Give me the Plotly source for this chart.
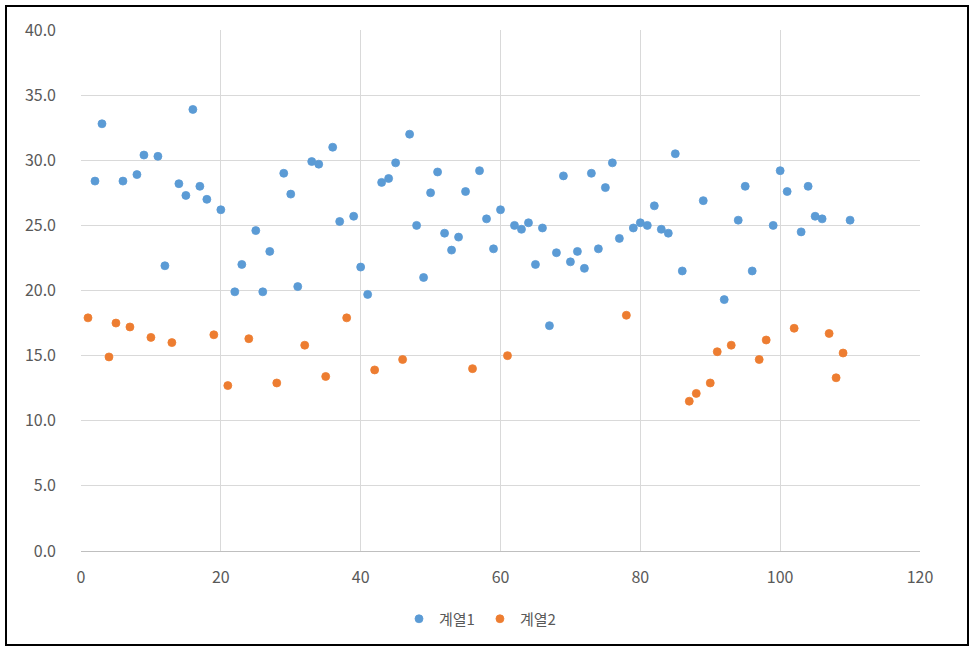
import plotly.graph_objects as go

# Series 1 (계열1)
s1_x = [2, 3, 6, 8, 9, 11, 12, 14, 15, 16, 17, 18, 20, 22, 23, 25, 26, 27, 29, 30,
        31, 33, 34, 36, 37, 39, 40, 41, 43, 44, 45, 47, 48, 49, 50, 51, 52, 53, 54, 55,
        57, 58, 59, 60, 62, 63, 64, 65, 66, 67, 68, 69, 70, 71, 72, 73, 74, 75, 76, 77,
        79, 80, 81, 82, 83, 84, 85, 86, 89, 92, 94, 95, 96, 99, 100, 101, 103, 104, 105, 106,
        110]
s1_y = [28.4, 32.8, 28.4, 28.9, 30.4, 30.3, 21.9, 28.2, 27.3, 33.9, 28.0, 27.0, 26.2, 19.9, 22.0, 24.6, 19.9, 23.0, 29.0, 27.4,
        20.3, 29.9, 29.7, 31.0, 25.3, 25.7, 21.8, 19.7, 28.3, 28.6, 29.8, 32.0, 25.0, 21.0, 27.5, 29.1, 24.4, 23.1, 24.1, 27.6,
        29.2, 25.5, 23.2, 26.2, 25.0, 24.7, 25.2, 22.0, 24.8, 17.3, 22.9, 28.8, 22.2, 23.0, 21.7, 29.0, 23.2, 27.9, 29.8, 24.0,
        24.8, 25.2, 25.0, 26.5, 24.7, 24.4, 30.5, 21.5, 26.9, 19.3, 25.4, 28.0, 21.5, 25.0, 29.2, 27.6, 24.5, 28.0, 25.7, 25.5,
        25.4]

# Series 2 (계열2)
s2_x = [1, 4, 5, 7, 10, 13, 19, 21, 24, 28, 32, 35, 38, 42, 46, 56, 61, 78,
        87, 88, 90, 91, 93, 97, 98, 102, 107, 108, 109]
s2_y = [17.9, 14.9, 17.5, 17.2, 16.4, 16.0, 16.6, 12.7, 16.3, 12.9, 15.8, 13.4, 17.9, 13.9, 14.7, 14.0, 15.0, 18.1,
        11.5, 12.1, 12.9, 15.3, 15.8, 14.7, 16.2, 17.1, 16.7, 13.3, 15.2]

names = ["계열1", "계열2"]
colors = ["#5B9BD5", "#ED7D31"]

FONT = "Noto Sans CJK KR, Malgun Gothic, sans-serif"
GRAY = "#595959"

fig = go.Figure()
for xs, ys, nm, c in [(s1_x, s1_y, names[0], colors[0]), (s2_x, s2_y, names[1], colors[1])]:
    fig.add_trace(go.Scatter(
        x=xs, y=ys, mode="markers", name=nm,
        marker=dict(size=8, color=c, line=dict(width=0.8, color=c)),
    ))

W, H = 979, 656
L, R, T, B = 81, 59, 30, 105
pw, ph = W - L - R, H - T - B

def px_x(p):
    return (p - L) / pw

def px_y(p):
    return (H - B - p) / ph

fig.update_layout(
    width=W, height=H,
    margin=dict(l=L, r=R, t=T, b=B, pad=0),
    paper_bgcolor="white", plot_bgcolor="white",
    font=dict(family=FONT, size=16, color=GRAY),
    showlegend=True,
    legend=dict(
        orientation="h", x=px_x(480), xanchor="center", y=px_y(619), yanchor="middle",
        font=dict(family=FONT, size=15, color=GRAY),
        itemwidth=30, tracegroupgap=0, itemsizing="trace",
    ),
    shapes=[dict(
        type="rect", xref="paper", yref="paper",
        x0=px_x(6), x1=px_x(968), y0=px_y(645), y1=px_y(6),
        line=dict(color="black", width=2), fillcolor="rgba(0,0,0,0)", layer="above",
    )],
)

fig.update_xaxes(
    range=[0, 120], dtick=20, tick0=0,
    showgrid=True, gridcolor="#D9D9D9", gridwidth=1,
    showline=True, linecolor="#BFBFBF", linewidth=1,
    zeroline=False, ticks="", ticklabelstandoff=12,
    tickfont=dict(family=FONT, size=16, color=GRAY),
)
fig.update_yaxes(
    range=[0, 40], dtick=5, tick0=0, tickformat=".1f",
    showgrid=True, gridcolor="#D9D9D9", gridwidth=1,
    showline=False, zeroline=False, ticks="", ticklabelstandoff=24,
    tickfont=dict(family=FONT, size=16, color=GRAY),
)

fig.write_html("out.html")
